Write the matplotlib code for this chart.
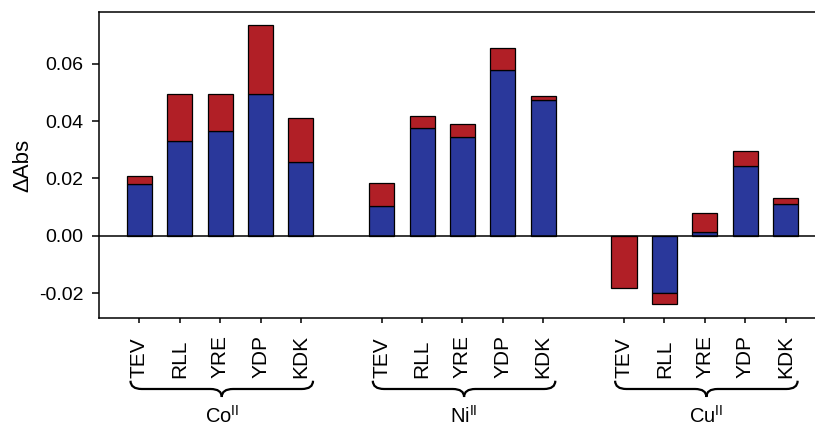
import matplotlib
matplotlib.use("Agg")
import matplotlib.pyplot as plt
import numpy as np
from matplotlib.path import Path
from matplotlib.patches import PathPatch
from matplotlib.transforms import blended_transform_factory

plt.rcParams.update({
    "font.family": ["Liberation Sans", "DejaVu Sans"],
    "font.size": 14,
    "axes.linewidth": 1.1,
})

# --- Data ---
peptides = ["TEV", "RLL", "YRE", "YDP", "KDK"]
metals = ["Co$^{\\mathregular{II}}$", "Ni$^{\\mathregular{II}}$", "Cu$^{\\mathregular{II}}$"]

# blue segment (bottom) and total height (top of red segment)
blue_co = [0.0180, 0.0331, 0.0367, 0.0496, 0.0258]
total_co = [0.0207, 0.0494, 0.0496, 0.0734, 0.0409]
blue_ni = [0.0105, 0.0375, 0.0345, 0.0578, 0.0474]
total_ni = [0.0186, 0.0418, 0.0389, 0.0655, 0.0488]
blue_cu = [0.0, -0.0198, 0.0013, 0.0245, 0.0110]
total_cu = [-0.0180, -0.0238, 0.0079, 0.0296, 0.0131]

BLUE = "#2a389b"
RED = "#b11f26"

fig = plt.figure(figsize=(8.15, 4.26), dpi=100)
ax = fig.add_axes([99 / 815, 108 / 426, 716 / 815, 306 / 426])
trans = blended_transform_factory(ax.transData, ax.transAxes)

blues = [blue_co, blue_ni, blue_cu]
totals = [total_co, total_ni, total_cu]
width = 0.62
xticks = []
for g, (b, t) in enumerate(zip(blues, totals)):
    x = np.arange(len(peptides)) + g * 6
    b = np.array(b)
    t = np.array(t)
    ax.bar(x, b, width=width, color=BLUE, edgecolor="black", linewidth=0.9, zorder=2)
    ax.bar(x, t - b, bottom=b, width=width, color=RED, edgecolor="black", linewidth=0.9, zorder=2)
    xticks += list(x)
    # peptide names, bottom-aligned just above the brace
    for xi, name in zip(x, peptides):
        ax.text(xi, -0.195, name, transform=trans, rotation=90,
                ha="center", va="bottom", fontsize=15)

ax.axhline(0, color="black", linewidth=1.1, zorder=3)

ax.set_xlim(-1, 16.73)
ax.set_ylim(-0.0286, 0.078)
ax.set_yticks([-0.02, 0.0, 0.02, 0.04, 0.06])
ax.set_yticklabels(["-0.02", "0.00", "0.02", "0.04", "0.06"])
ax.set_xticks(xticks)
ax.set_xticklabels([])
ax.tick_params(axis="y", direction="out", length=5, width=1.1, pad=6)
ax.tick_params(axis="x", direction="out", length=3.6, width=1.1)
ax.spines["right"].set_visible(False)
ax.set_ylabel("\u0394Abs", fontsize=16)
ax.yaxis.set_label_coords(-0.092, 0.5)

# --- braces and group labels under the peptide names ---
y_top, y_mid, y_tip = -0.205, -0.232, -0.258
r = 0.28
for g, name in enumerate(metals):
    x0 = g * 6 - 0.22
    x1 = g * 6 + 4.3
    xc = (x0 + x1) / 2
    verts = [
        (x0, y_top), (x0, y_mid), (x0 + r, y_mid),
        (xc - r, y_mid),
        (xc, y_mid), (xc, y_tip),
        (xc, y_mid), (xc + r, y_mid),
        (x1 - r, y_mid),
        (x1, y_mid), (x1, y_top),
    ]
    codes = [Path.MOVETO, Path.CURVE3, Path.CURVE3,
             Path.LINETO,
             Path.CURVE3, Path.CURVE3,
             Path.CURVE3, Path.CURVE3,
             Path.LINETO,
             Path.CURVE3, Path.CURVE3]
    ax.add_patch(PathPatch(Path(verts, codes), transform=trans, fill=False,
                           edgecolor="black", linewidth=1.6, clip_on=False))
    ax.text(xc, -0.342, name, transform=trans, ha="center", va="baseline",
            fontsize=14.5)

fig.savefig("out.png", dpi=100)
